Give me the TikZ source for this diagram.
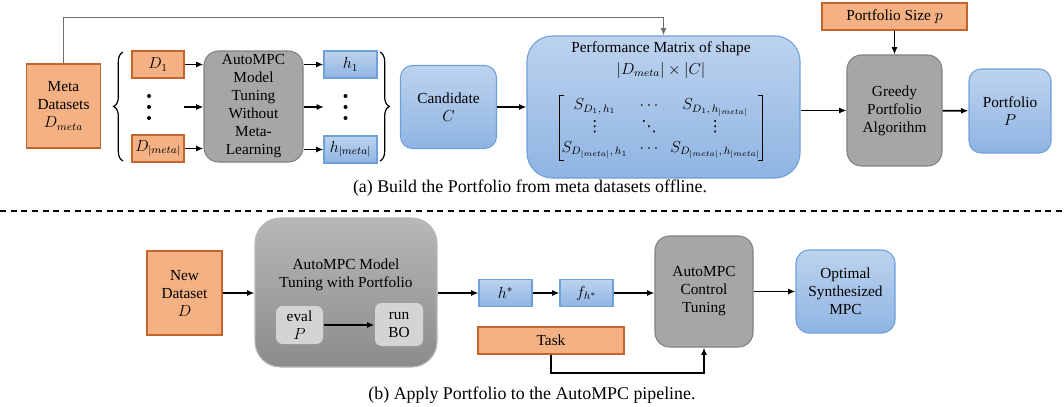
\documentclass[tikz,border=0pt]{standalone}
\usepackage{fontspec}
\setmainfont{Liberation Serif}
\newfontfamily\dotsfont{DejaVu Sans}
\usetikzlibrary{arrows.meta,decorations.pathreplacing,calc}

\definecolor{orF}{RGB}{244,177,131}
\definecolor{orD}{RGB}{197,100,45}
\definecolor{blT}{RGB}{189,211,238}
\definecolor{blB}{RGB}{143,180,226}
\definecolor{blD}{RGB}{110,160,218}
\definecolor{grF}{RGB}{166,166,166}
\definecolor{grD}{RGB}{128,128,128}
\definecolor{grT}{RGB}{184,184,184}
\definecolor{grB}{RGB}{140,140,140}
\definecolor{grL}{RGB}{212,212,212}
\definecolor{lineG}{RGB}{110,110,110}

% single-glyph vertical and diagonal ellipses for the matrix
\newcommand\vdts{\raisebox{-1pt}{\dotsfont ⋮}}
\newcommand\ddts{\raisebox{-1pt}{\dotsfont ⋱}}

\begin{document}
\begin{tikzpicture}[x=0.75pt,y=-0.75pt,
  font=\fontsize{11.5}{13.5}\selectfont,
  base/.style={align=center, inner sep=0pt, line width=0.8pt},
  obox/.style={base, draw=orD, fill=orF},
  bbox/.style={base, draw=blD, top color=blT, bottom color=blB},
  gbox/.style={base, draw=grD, fill=grF},
  sz/.style 2 args={minimum width=#1*0.75pt, minimum height=#2*0.75pt},
  arr/.style={-{Latex[length=5.5pt,width=4.5pt]}, line width=1.2pt},
  brc/.style={decorate, decoration={brace, amplitude=7pt}, line width=0.9pt},
  dotm/.style={circle, fill=black, inner sep=0pt, minimum size=3pt},
  captext/.style={font=\fontsize{13.4}{15}\selectfont},
  bracket/.style={line width=0.7pt},
  ]
\useasboundingbox (0,0) rectangle (1064,407);

% ---------- (a) offline portfolio construction ----------
\node[obox, sz={74}{84}] (meta) at (63.5,106) {Meta\\Datasets\\$D_{meta}$};
\node[obox, sz={52}{27}] (d1) at (158,64.5) {$D_1$};
\node[obox, sz={52}{27}] (dm) at (158,148.5) {$D_{|meta|}$};
\node[dotm] (dv1) at (149,96) {};
\node[dotm] (dv2) at (149,107) {};
\node[dotm] (dv3) at (149,118) {};
\node[gbox, sz={99}{111}, rounded corners=11pt] (tune) at (253.5,106.5)
  {AutoMPC\\Model\\Tuning\\Without\\Meta-\\Learning};
\node[bbox, sz={53}{27}] (h1) at (350.5,64.5) {$h_1$};
\node[bbox, sz={53}{27}] (hm) at (350.5,149.5) {$h_{|meta|}$};
\node[dotm] (hv1) at (345.5,96) {};
\node[dotm] (hv2) at (345.5,107) {};
\node[dotm] (hv3) at (345.5,118) {};

\draw[brc] (123,161) -- (123,52);
\draw[brc] (380,52) -- (380,161);

\coordinate (dmid) at (184,107);
\coordinate (hmid) at (324,107);
\draw[arr] (d1) -- (d1 -| tune.west);
\draw[arr] (dmid) -- (dmid -| tune.west);
\draw[arr] (dm) -- (dm -| tune.west);
\draw[arr] (tune.east |- h1) -- (h1);
\draw[arr] (tune.east |- hmid) -- (hmid);
\draw[arr] (tune.east |- hm) -- (hm);

\node[bbox, sz={96}{83}, rounded corners=9pt] (cand) at (448.5,107) {Candidate\\$C$};
\node[bbox, sz={273}{142}, rounded corners=19pt] (perf) at (663.5,107) {};
\node[align=center] (perfT) at (661,60)
  {Performance Matrix of shape\\[3pt]$|D_{meta}|\times|C|$};
\node[inner xsep=1.5pt, inner ysep=1pt] (mat) at (661,128)
  {$\begin{array}{@{}c@{\hspace{9pt}}c@{\hspace{9pt}}c@{}}
  S_{D_1,\,h_1} & \cdots & S_{D_1,\,h_{|meta|}}\\[2pt]
  \vdts & \ddts & \vdts\\[3pt]
  S_{D_{|meta|},\,h_1} & \cdots & S_{D_{|meta|},\,h_{|meta|}}
  \end{array}$};
% square brackets round the matrix
\draw[bracket] ([xshift=3.5pt]mat.north west) -- (mat.north west) -- (mat.south west)
  -- ([xshift=3.5pt]mat.south west);
\draw[bracket] ([xshift=-3.5pt]mat.north east) -- (mat.north east) -- (mat.south east)
  -- ([xshift=-3.5pt]mat.south east);
\draw[arr] (cand.east) -- (perf.west);

\coordinate (topline) at (63,17.5);
\draw[arr, color=lineG] (meta.north) -- (meta.north |- topline) -| (perf.north);

\node[obox, sz={145}{27}] (psize) at (894.5,16.5) {Portfolio Size $p$};
\node[gbox, sz={95}{111}, rounded corners=11pt] (greedy) at (894.5,110.5)
  {Greedy\\Portfolio\\Algorithm};
\node[bbox, sz={82}{84}, rounded corners=9pt] (port) at (1010,111) {Portfolio\\$P$};
\draw[arr] (perf.east |- greedy.west) -- (greedy.west);
\draw[arr] (psize) -- (greedy);
\draw[arr] (greedy) -- (port);

\node[captext] (capA) at (530,188) {(a) Build the Portfolio from meta datasets offline.};

\draw[dash pattern=on 4.5pt off 3.5pt, line width=0.8pt] (0,211) -- (1064,211);

% ---------- (b) online use of the portfolio ----------
\node[obox, sz={75}{84}] (newd) at (184.5,293) {New\\Dataset\\$D$};
\node[base, sz={182}{149}, rounded corners=19pt, top color=grT, bottom color=grB,
  draw=grT] (tunep) at (346,292.5) {};
\node[align=center] (tunepT) at (346,275) {AutoMPC Model\\Tuning with Portfolio};
\node[base, fill=grL, rounded corners=5pt, sz={47}{38}] (eval) at (299.5,325) {eval\\$P$};
\node[base, fill=grL, rounded corners=5pt, sz={48}{43}] (runbo) at (399,324.5) {run\\BO};
\draw[arr] (eval) -- (eval -| runbo.west);
\draw[arr] (newd) -- (newd -| tunep.west);

\node[bbox, sz={53}{27}] (hs) at (505.5,293) {$h^*$};
\node[bbox, sz={53}{27}] (fh) at (586.5,293) {$f_{h^*}$};
\node[gbox, sz={98}{111}, rounded corners=11pt] (ctrl) at (704,291.5)
  {AutoMPC\\Control\\Tuning};
\node[bbox, sz={99}{83}, rounded corners=10pt] (opt) at (845.5,291.5)
  {Optimal\\Synthesized\\MPC};
\node[obox, sz={146}{27}] (task) at (551,340.5) {Task};

\draw[arr] (tunep.east |- hs) -- (hs);
\draw[arr] (hs) -- (fh);
\draw[arr] (fh) -- (fh -| ctrl.west);
\draw[arr] (ctrl) -- (opt);
\coordinate (tk) at (551,373);
\draw[arr] (task.south) -- (task.south |- tk) -| (ctrl.south);

\node[captext] (capB) at (532,395) {(b) Apply Portfolio to the AutoMPC pipeline.};
\end{tikzpicture}
\end{document}
